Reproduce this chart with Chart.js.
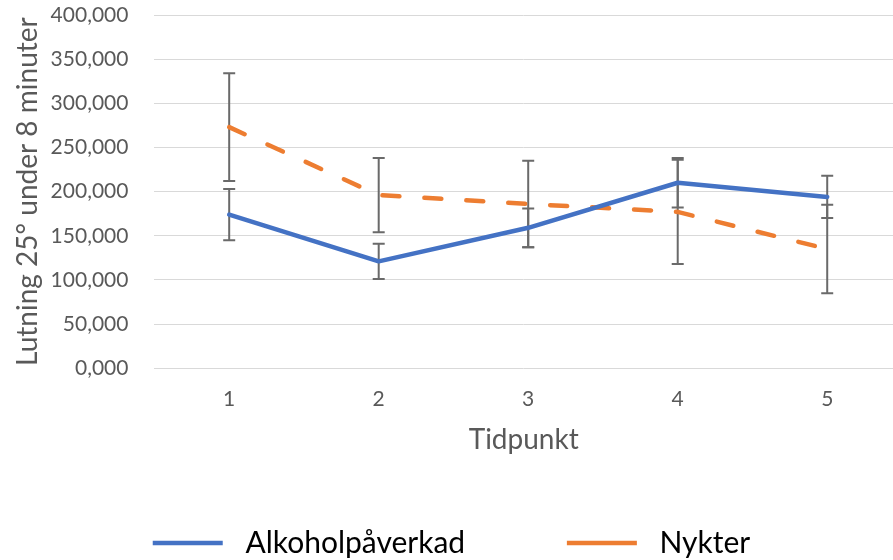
<!DOCTYPE html>
<html>
<head>
<meta charset="utf-8">
<script src="https://cdn.jsdelivr.net/npm/chart.js@4"></script>
<style>
  body { margin: 0; background: #fff; }
  #wrap { width: 893px; height: 560px; }
</style>
</head>
<body>
<div id="wrap"><canvas id="chart"></canvas></div>
<script>
// Data
const tidpunkter = ['1', '2', '3', '4', '5'];
const alkohol = [174, 121, 159, 210, 194];
const alkoholFel = [29, 20, 22, 28, 24];
const nykter = [273, 196, 186, 177, 135];
const nykterFel = [61, 42, 49, 59, 50];
const yTicks = [0, 50, 100, 150, 200, 250, 300, 350, 400];

const FONT = 'Lato';
const GREY = '#595959';

// Error bars, drawn under the lines
const errorBars = {
    id: 'errorBars',
    beforeDatasetsDraw(chart) {
        const ctx = chart.ctx;
        const x = chart.scales.x;
        const y = chart.scales.y;
        const sets = [[alkohol, alkoholFel], [nykter, nykterFel]];
        ctx.save();
        ctx.strokeStyle = '#6a6a6a';
        ctx.lineWidth = 2;
        sets.forEach(([vals, err]) => {
            vals.forEach((v, i) => {
                const px = x.getPixelForValue(+tidpunkter[i]);
                const top = y.getPixelForValue(v + err[i]);
                const bot = y.getPixelForValue(v - err[i]);
                ctx.beginPath();
                ctx.moveTo(px, top); ctx.lineTo(px, bot);
                ctx.moveTo(px - 6, top); ctx.lineTo(px + 6, top);
                ctx.moveTo(px - 6, bot); ctx.lineTo(px + 6, bot);
                ctx.stroke();
            });
        });
        ctx.restore();
    }
};

new Chart(document.getElementById('chart').getContext('2d'), {
    type: 'line',
    data: {
        labels: tidpunkter,
        datasets: [{
            label: 'Alkoholpåverkad',
            data: alkohol,
            borderColor: '#4472C4',
            backgroundColor: '#4472C4',
            borderWidth: 4.5,
            borderCapStyle: 'round',
            borderJoinStyle: 'round',
            pointRadius: 0,
            tension: 0
        }, {
            label: 'Nykter',
            data: nykter,
            borderColor: '#ED7D31',
            backgroundColor: '#ED7D31',
            borderWidth: 4.5,
            borderDash: [17, 25],
            borderCapStyle: 'round',
            pointRadius: 0,
            tension: 0
        }]
    },
    options: {
        responsive: true,
        maintainAspectRatio: false,
        animation: false,
        layout: { padding: { left: 10, right: 0, top: 15, bottom: -8 } },
        scales: {
            x: {
                type: 'linear',
                min: 0.5,
                max: 5.44,
                afterBuildTicks: axis => { axis.ticks = tidpunkter.map(v => ({ value: +v })); },
                grid: { display: false, drawTicks: true, tickLength: 18 },
                border: { display: false },
                ticks: { color: GREY, font: { family: FONT, size: 21 }, padding: 0, maxRotation: 0, callback: v => String(v) },
                title: { display: true, text: 'Tidpunkt', color: GREY, font: { family: FONT, size: 28 }, padding: { top: 12, bottom: 0 } }
            },
            y: {
                min: 0,
                max: 400,
                afterBuildTicks: axis => { axis.ticks = yTicks.map(v => ({ value: v })); },
                grid: { color: '#d9d9d9', lineWidth: 1, drawTicks: true, tickLength: 26, tickColor: 'rgba(0,0,0,0)' },
                border: { display: false },
                ticks: { color: GREY, font: { family: FONT, size: 21 }, padding: 0, callback: v => v.toFixed(3).replace('.', ',') },
                title: { display: true, text: 'Lutning 25° under 8 minuter', color: GREY, font: { family: FONT, size: 28 }, padding: { top: 1, bottom: 6 } }
            }
        },
        plugins: {
            legend: {
                position: 'bottom',
                labels: {
                    usePointStyle: true,
                    pointStyle: 'line',
                    pointStyleWidth: 70,
                    padding: 71,
                    color: '#000',
                    font: { family: FONT, size: 30 },
                    // a little extra room after the first entry, as in the original
                    generateLabels: chart => Chart.defaults.plugins.legend.labels.generateLabels(chart)
                        .map((item, i) => ({ ...item, text: ' ' + item.text + (i === 0 ? '    ' : '') }))
                }
            },
            tooltip: { enabled: false }
        }
    },
    plugins: [errorBars]
});
</script>
</body>
</html>
